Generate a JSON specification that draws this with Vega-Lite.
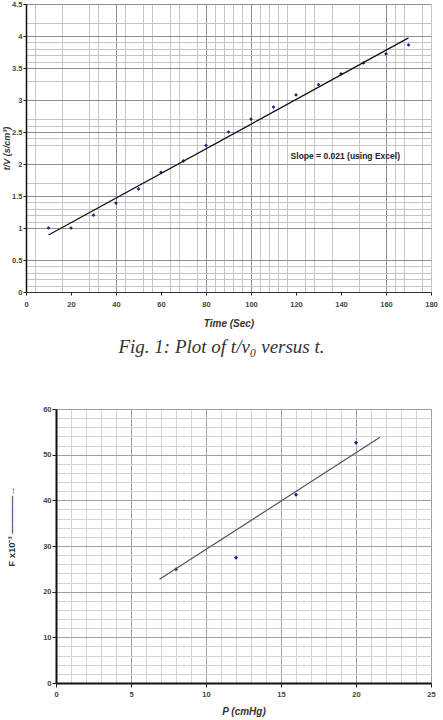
{
  "$schema": "https://vega.github.io/schema/vega-lite/v6.json",
  "padding": {"left": 2, "top": 0, "right": 0, "bottom": 0},
  "background": "white",
  "spacing": 48,
  "config": {
    "view": {"stroke": null},
    "axis": {
      "labelFont": "Liberation Sans", "labelFontWeight": "bold", "labelFontSize": 7.5, "labelColor": "#444",
      "titleFont": "Liberation Sans", "titleFontWeight": "bold", "titleFontStyle": "italic", "titleFontSize": 10, "titleColor": "#333",
      "gridWidth": 1, "tickColor": "#222", "domainColor": "#111", "labelOverlap": false, "labelFlush": false, "tickCount": 1000
    }
  },
  "datasets": {
    "t": [
      {"t": 10, "v": 1.0}, {"t": 20, "v": 1.0}, {"t": 30, "v": 1.2}, {"t": 40, "v": 1.39},
      {"t": 50, "v": 1.61}, {"t": 60, "v": 1.87}, {"t": 70, "v": 2.05}, {"t": 80, "v": 2.29},
      {"t": 90, "v": 2.5}, {"t": 100, "v": 2.7}, {"t": 110, "v": 2.89}, {"t": 120, "v": 3.08},
      {"t": 130, "v": 3.24}, {"t": 140, "v": 3.41}, {"t": 150, "v": 3.58}, {"t": 160, "v": 3.72},
      {"t": 170, "v": 3.86}
    ],
    "tline": [{"t": 10, "v": 0.89}, {"t": 170, "v": 3.97}],
    "tnote": [{"t": 117.6, "v": 2.13, "label": "Slope = 0.021 (using Excel)"}],
    "p": [{"p": 8, "f": 24.9}, {"p": 12, "f": 27.4}, {"p": 16, "f": 41.2}, {"p": 20, "f": 52.6}],
    "pline": [{"p": 6.9, "f": 22.7}, {"p": 21.6, "f": 53.8}]
  },
  "vconcat": [
    {
      "width": 405,
      "height": 288,
      "title": {
        "text": "Fig. 1: Plot of  t/v₀  versus t.",
        "orient": "bottom", "anchor": "middle", "dx": -7, "offset": 9,
        "font": "Liberation Serif", "fontStyle": "italic", "fontWeight": "normal", "fontSize": 19, "color": "#333"
      },
      "layer": [
        {
          "data": {"name": "t"},
          "mark": {"type": "point", "shape": "diamond", "filled": true, "size": 14, "color": "#22228a", "opacity": 1},
          "encoding": {
            "x": {
              "field": "t", "type": "quantitative",
              "scale": {"domain": [0, 180], "nice": false, "zero": true},
              "axis": {
                "title": "Time (Sec)",
                "format": "d",
                "values": [0, 4, 16, 20, 28, 32, 40, 44, 52, 56, 60, 64, 68, 76, 80, 84, 88, 92, 96, 100, 104, 108, 112, 116, 120, 124, 128, 136, 140, 148, 160, 164, 168, 176, 180],
                "labelExpr": "datum.value % 20 == 0 ? datum.label : ''",
                "gridColor": {"condition": {"test": "indexof([40,80,100,160], datum.value) >= 0", "value": "#8f8f8f"}, "value": "#c4c4c4"},
                "gridOpacity": {"condition": {"test": "indexof([0,20,60,120,140], datum.value) >= 0", "value": 0}, "value": 1},
                "tickOpacity": {"condition": {"test": "datum.value % 20 == 0", "value": 1}, "value": 0},
                "tickSize": 3, "labelPadding": 5, "titlePadding": 11, "domainColor": "#333"
              }
            },
            "y": {
              "field": "v", "type": "quantitative",
              "scale": {"domain": [0, 4.5], "nice": false, "zero": true},
              "axis": {
                "title": "t/V (s/cm³)",
                "titleX": -20,
                "titleY": 144,
                "titleAlign": "center",
                "titleBaseline": "middle",
                "titleAngle": 270,
                "titleFontSize": 9,
                "values": [0, 0.1, 0.2, 0.3, 0.4, 0.5, 1, 1.1, 1.2, 1.3, 1.4, 1.5, 1.7, 2, 2.3, 2.4, 2.5, 2.6, 2.7, 3, 3.3, 3.5, 3.6, 3.7, 3.8, 3.9, 4, 4.2, 4.5],
                "format": ".1~f",
                "labelExpr": "abs(datum.value*2 - round(datum.value*2)) < 0.001 ? datum.label : ''",
                "gridColor": {"condition": {"test": "abs(datum.value*2 - round(datum.value*2)) < 0.001", "value": "#8f8f8f"}, "value": "#c4c4c4"},
                "tickOpacity": {"condition": {"test": "abs(datum.value*2 - round(datum.value*2)) < 0.001", "value": 1}, "value": 0},
                "tickSize": 3, "labelPadding": 1, "domainWidth": 1.5
              }
            }
          }
        },
        {
          "data": {"name": "tline"},
          "mark": {"type": "line", "color": "#111", "strokeWidth": 1.3},
          "encoding": {
            "x": {"field": "t", "type": "quantitative"},
            "y": {"field": "v", "type": "quantitative"}
          }
        },
        {
          "data": {"name": "tnote"},
          "mark": {"type": "text", "align": "left", "baseline": "middle", "font": "Liberation Sans", "fontWeight": "bold", "fontSize": 8.5, "color": "#222"},
          "encoding": {
            "x": {"field": "t", "type": "quantitative"},
            "y": {"field": "v", "type": "quantitative"},
            "text": {"field": "label"}
          }
        }
      ]
    },
    {
      "width": 405,
      "height": 274,
      "layer": [
        {
          "data": {"name": "p"},
          "mark": {"type": "point", "shape": "diamond", "filled": true, "size": 16, "color": "#1a1a80", "opacity": 1},
          "encoding": {
            "x": {
              "field": "p", "type": "quantitative",
              "scale": {"domain": [0, 25], "range": [30, 405], "nice": false, "zero": true},
              "axis": {
                "title": "P (cmHg)",
                "format": "d",
                "values": [0, 1, 2, 3, 4, 5, 6, 7, 8, 9, 10, 11, 12, 13, 14, 15, 16, 17, 18, 19, 20, 21, 22, 23, 24, 25],
                "labelExpr": "datum.value % 5 == 0 ? datum.label : ''",
                "gridColor": {"condition": {"test": "datum.value % 5 == 0", "value": "#a0a0a0"}, "value": "#d4d4d4"},
                "tickOpacity": {"condition": {"test": "datum.value % 5 == 0", "value": 1}, "value": 0},
                "tickSize": 4, "labelPadding": 3, "titlePadding": 9, "domainWidth": 2, "domainColor": "#111"
              }
            },
            "y": {
              "field": "f", "type": "quantitative",
              "scale": {"domain": [0, 60], "nice": false, "zero": true},
              "axis": {
                "title": "F x10⁻³ ————→",
                "offset": -30,
                "format": "d",
                "titleFontStyle": "normal",
                "titleFontSize": 9.5,
                "titleAngle": 270,
                "titleX": -45,
                "titleY": 117,
                "titleAlign": "center",
                "titleBaseline": "middle",
                "values": [0, 2, 4, 6, 8, 10, 12, 14, 16, 18, 20, 22, 24, 26, 28, 30, 32, 34, 36, 38, 40, 42, 44, 46, 48, 50, 52, 54, 56, 58, 60],
                "labelExpr": "datum.value % 10 == 0 ? datum.label : ''",
                "gridColor": {"condition": {"test": "datum.value % 10 == 0", "value": "#a0a0a0"}, "value": "#d4d4d4"},
                "tickOpacity": {"condition": {"test": "datum.value % 10 == 0", "value": 1}, "value": 0},
                "tickSize": 4, "labelPadding": 1, "domainWidth": 2, "domainColor": "#111"
              }
            }
          }
        },
        {
          "data": {"name": "pline"},
          "mark": {"type": "line", "color": "#555", "strokeWidth": 1.2},
          "encoding": {
            "x": {"field": "p", "type": "quantitative"},
            "y": {"field": "f", "type": "quantitative"}
          }
        }
      ]
    }
  ]
}
